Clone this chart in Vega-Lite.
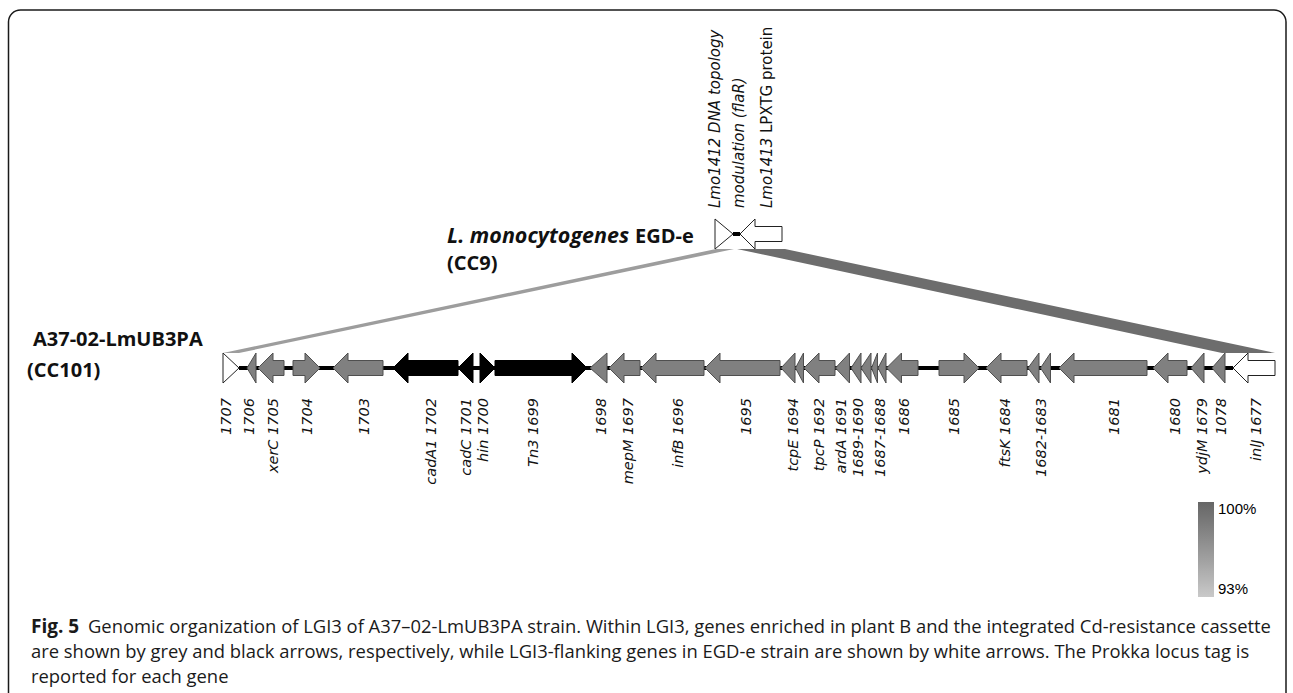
{
"$schema": "https://vega.github.io/schema/vega-lite/v6.json",
"width": 1293, "height": 693, "padding": 0,
"autosize": {"type": "fit", "contains": "padding"},
"config": {"view": {"stroke": null}},
"datasets": {
"frame": [{"x": 8.5, "x2": 1286, "y": 10, "y2": 720}],
"links": [
{"link": "left", "y": 249, "x": 716, "x2": 734, "identity": 96},
{"link": "left", "y": 353, "x": 223, "x2": 239, "identity": 96},
{"link": "right", "y": 249, "x": 737, "x2": 785, "identity": 99.5},
{"link": "right", "y": 353, "x": 1222, "x2": 1275, "identity": 99.5}
],
"backbone": [{"x": 239, "x2": 1233, "y": 368}, {"x": 733, "x2": 740, "y": 234}],
"genes": [
{"gene": "1707", "x": 223, "x2": 239, "y": 368, "dir": "R", "kind": "white", "head": "t16"},
{"gene": "1706", "x": 247, "x2": 256, "y": 368, "dir": "L", "kind": "grey", "head": "t9"},
{"gene": "1705", "x": 258, "x2": 284, "y": 368, "dir": "L", "kind": "grey", "head": "b"},
{"gene": "1704", "x": 293, "x2": 320, "y": 368, "dir": "R", "kind": "grey", "head": "b"},
{"gene": "1703", "x": 333, "x2": 383, "y": 368, "dir": "L", "kind": "grey", "head": "b"},
{"gene": "1702", "x": 393, "x2": 458, "y": 368, "dir": "L", "kind": "black", "head": "b"},
{"gene": "1701", "x": 458, "x2": 473, "y": 368, "dir": "L", "kind": "black", "head": "t15"},
{"gene": "1700", "x": 480, "x2": 495, "y": 368, "dir": "R", "kind": "black", "head": "t15"},
{"gene": "1699", "x": 495, "x2": 587, "y": 368, "dir": "R", "kind": "black", "head": "b"},
{"gene": "1698", "x": 590, "x2": 607, "y": 368, "dir": "L", "kind": "grey", "head": "t17"},
{"gene": "1697", "x": 609, "x2": 640, "y": 368, "dir": "L", "kind": "grey", "head": "b"},
{"gene": "1696", "x": 641, "x2": 704, "y": 368, "dir": "L", "kind": "grey", "head": "b"},
{"gene": "1695", "x": 705, "x2": 780, "y": 368, "dir": "L", "kind": "grey", "head": "b"},
{"gene": "1694", "x": 781, "x2": 795, "y": 368, "dir": "L", "kind": "grey", "head": "t14"},
{"gene": "1693", "x": 795.5, "x2": 803.5, "y": 368, "dir": "L", "kind": "grey", "head": "t8"},
{"gene": "1692", "x": 804, "x2": 835, "y": 368, "dir": "L", "kind": "grey", "head": "b"},
{"gene": "1691", "x": 835.5, "x2": 850, "y": 368, "dir": "L", "kind": "grey", "head": "t14"},
{"gene": "1690", "x": 851, "x2": 860.5, "y": 368, "dir": "L", "kind": "grey", "head": "t10"},
{"gene": "1689", "x": 861, "x2": 870.5, "y": 368, "dir": "L", "kind": "grey", "head": "t10"},
{"gene": "1688", "x": 871.5, "x2": 877.5, "y": 368, "dir": "L", "kind": "grey", "head": "t6"},
{"gene": "1687", "x": 878, "x2": 886, "y": 368, "dir": "L", "kind": "grey", "head": "t8"},
{"gene": "1686", "x": 886.5, "x2": 918, "y": 368, "dir": "L", "kind": "grey", "head": "b"},
{"gene": "1685", "x": 939, "x2": 979, "y": 368, "dir": "R", "kind": "grey", "head": "b"},
{"gene": "1684", "x": 986, "x2": 1027, "y": 368, "dir": "L", "kind": "grey", "head": "b"},
{"gene": "1683", "x": 1028, "x2": 1039, "y": 368, "dir": "L", "kind": "grey", "head": "t11"},
{"gene": "1682", "x": 1040.5, "x2": 1050.5, "y": 368, "dir": "L", "kind": "grey", "head": "t10"},
{"gene": "1681", "x": 1059, "x2": 1147, "y": 368, "dir": "L", "kind": "grey", "head": "b"},
{"gene": "1680", "x": 1153, "x2": 1187, "y": 368, "dir": "L", "kind": "grey", "head": "b"},
{"gene": "1679", "x": 1191, "x2": 1204, "y": 368, "dir": "L", "kind": "grey", "head": "t13"},
{"gene": "1678", "x": 1212, "x2": 1225, "y": 368, "dir": "L", "kind": "grey", "head": "t13"},
{"gene": "1677", "x": 1233, "x2": 1275, "y": 368, "dir": "L", "kind": "white", "head": "b"},
{"gene": "Lmo1412", "x": 715, "x2": 733, "y": 234, "dir": "R", "kind": "white", "head": "t18"},
{"gene": "Lmo1413", "x": 740, "x2": 782, "y": 234, "dir": "L", "kind": "white", "head": "b"}
],
"glabels": [
{"x": 226.7, "y": 398, "text": "1707"},
{"x": 250, "y": 398, "text": "1706"},
{"x": 274.3, "y": 398, "text": "xerC 1705"},
{"x": 308.3, "y": 398, "text": "1704"},
{"x": 365, "y": 398, "text": "1703"},
{"x": 431.5, "y": 398, "text": "cadA1 1702"},
{"x": 466.7, "y": 398, "text": "cadC 1701"},
{"x": 484, "y": 398, "text": "hin 1700"},
{"x": 533.5, "y": 398, "text": "Tn3 1699"},
{"x": 602, "y": 398, "text": "1698"},
{"x": 628.7, "y": 398, "text": "mepM 1697"},
{"x": 679, "y": 398, "text": "infB 1696"},
{"x": 747, "y": 398, "text": "1695"},
{"x": 793.5, "y": 398, "text": "tcpE 1694"},
{"x": 820, "y": 398, "text": "tpcP 1692"},
{"x": 841.5, "y": 398, "text": "ardA 1691"},
{"x": 858.5, "y": 398, "text": "1689-1690"},
{"x": 880.5, "y": 398, "text": "1687-1688"},
{"x": 905, "y": 398, "text": "1686"},
{"x": 955, "y": 398, "text": "1685"},
{"x": 1006, "y": 398, "text": "ftsK 1684"},
{"x": 1042, "y": 398, "text": "1682-1683"},
{"x": 1115, "y": 398, "text": "1681"},
{"x": 1176, "y": 398, "text": "1680"},
{"x": 1203, "y": 398, "text": "ydjM 1679"},
{"x": 1222, "y": 398, "text": "1078"},
{"x": 1257, "y": 398, "text": "inlJ 1677"}
],
"tops": [
{"x": 715, "y": 208, "text": "Lmo1412 DNA topology"},
{"x": 738.5, "y": 208, "text": "modulation (flaR)"},
{"x": 766.7, "y": 208, "text": "Lmo1413"}
],
"topsUp": [{"x": 766.7, "y": 133, "text": "LPXTG protein"}],
"bold": [
{"x": 33, "y": 346, "text": "A37-02-LmUB3PA"},
{"x": 27, "y": 377, "text": "(CC101)"},
{"x": 635, "y": 243, "text": "EGD-e"},
{"x": 447, "y": 270, "text": "(CC9)"}
],
"boldItalic": [{"x": 447, "y": 243, "text": "L. monocytogenes"}],
"capBold": [{"x": 31, "y": 633, "text": "Fig. 5"}],
"cap": [
{"x": 88, "y": 633, "text": "Genomic organization of LGI3 of A37–02-LmUB3PA strain. Within LGI3, genes enriched in plant B and the integrated Cd-resistance cassette"},
{"x": 31, "y": 658, "text": "are shown by grey and black arrows, respectively, while LGI3-flanking genes in EGD-e strain are shown by white arrows. The Prokka locus tag is"},
{"x": 31, "y": 683, "text": "reported for each gene"}
]
},
"layer": [
{
"data": {"name": "frame"},
"mark": {"type": "rect", "filled": false, "stroke": "#1a1a1a", "strokeWidth": 1.5, "cornerRadius": 12, "clip": true},
"encoding": {
"x": {"field": "x", "type": "quantitative", "scale": {"domain": [0, 1293], "nice": false, "zero": false}, "axis": null},
"x2": {"field": "x2"},
"y": {"field": "y", "type": "quantitative", "scale": {"domain": [0, 693], "reverse": true, "nice": false, "zero": false}, "axis": null},
"y2": {"field": "y2"}
}
},
{
"data": {"name": "links"},
"mark": {"type": "area", "orient": "horizontal"},
"encoding": {
"y": {"field": "y", "type": "quantitative"},
"x": {"field": "x", "type": "quantitative"},
"x2": {"field": "x2"},
"detail": {"field": "link"},
"fill": {"field": "identity", "type": "quantitative",
"scale": {"domain": [93, 100], "range": ["#c9c9c9", "#666666"]},
"legend": {"orient": "none", "legendX": 1198, "legendY": 502, "direction": "vertical", "title": null,
"gradientLength": 95, "gradientThickness": 16, "gradientStrokeWidth": 0, "values": [93, 100],
"labelExpr": "datum.value + '%'", "labelFont": "Liberation Sans", "labelFontSize": 15, "labelColor": "#000000", "labelOffset": 4}}
}
},
{
"data": {"name": "backbone"},
"mark": {"type": "rule", "color": "#000000", "strokeWidth": 4},
"encoding": {
"x": {"field": "x", "type": "quantitative"},
"x2": {"field": "x2"},
"y": {"field": "y", "type": "quantitative"}
}
},
{
"data": {"name": "genes"},
"transform": [{"filter": "datum.head == 'b' && datum.dir == 'L'"}],
"mark": {"type": "rect", "xOffset": 14, "yOffset": -7.5, "y2Offset": 7.5, "strokeWidth": 1},
"encoding": {
"x": {"field": "x", "type": "quantitative"},
"x2": {"field": "x2"},
"y": {"field": "y", "type": "quantitative"},
"y2": {"field": "y"},
"color": {"field": "kind", "type": "nominal", "scale": {"domain": ["grey", "black", "white"], "range": ["#808080", "#000000", "#ffffff"]}, "legend": null},
"stroke": {"field": "kind", "type": "nominal", "scale": {"domain": ["grey", "black", "white"], "range": ["#4f4f4f", "#000000", "#222222"]}, "legend": null}
}
},
{
"data": {"name": "genes"},
"transform": [{"filter": "datum.head == 'b' && datum.dir == 'R'"}],
"mark": {"type": "rect", "x2Offset": -14, "yOffset": -7.5, "y2Offset": 7.5, "strokeWidth": 1},
"encoding": {
"x": {"field": "x", "type": "quantitative"},
"x2": {"field": "x2"},
"y": {"field": "y", "type": "quantitative"},
"y2": {"field": "y"},
"color": {"field": "kind", "type": "nominal", "legend": null},
"stroke": {"field": "kind", "type": "nominal", "legend": null}
}
},
{
"data": {"name": "genes"},
"transform": [{"filter": "datum.dir == 'L'"}],
"mark": {"type": "point", "filled": true, "opacity": 1, "size": 900, "strokeWidth": 1},
"encoding": {
"x": {"field": "x", "type": "quantitative"},
"y": {"field": "y", "type": "quantitative"},
"shape": {"field": "head", "type": "nominal", "legend": null,
"scale": {"domain": ["b", "t6", "t7", "t8", "t9", "t10", "t11", "t12", "t13", "t14", "t15", "t16", "t17", "t18"],
"range": ["M1,-0.5L1,-1L0,0L1,1L1,0.5", "M0.4,-1L0,0L0.4,1Z", "M0.4667,-1L0,0L0.4667,1Z", "M0.5333,-1L0,0L0.5333,1Z", "M0.6,-1L0,0L0.6,1Z", "M0.6667,-1L0,0L0.6667,1Z", "M0.7333,-1L0,0L0.7333,1Z", "M0.8,-1L0,0L0.8,1Z", "M0.8667,-1L0,0L0.8667,1Z", "M0.9333,-1L0,0L0.9333,1Z", "M1,-1L0,0L1,1Z", "M1.0667,-1L0,0L1.0667,1Z", "M1.1333,-1L0,0L1.1333,1Z", "M1.2,-1L0,0L1.2,1Z"]}},
"color": {"field": "kind", "type": "nominal", "legend": null},
"stroke": {"field": "kind", "type": "nominal", "legend": null}
}
},
{
"data": {"name": "genes"},
"transform": [{"filter": "datum.dir == 'R'"}],
"mark": {"type": "point", "filled": true, "opacity": 1, "size": 900, "strokeWidth": 1, "angle": 180},
"encoding": {
"x": {"field": "x2", "type": "quantitative"},
"y": {"field": "y", "type": "quantitative"},
"shape": {"field": "head", "type": "nominal", "legend": null},
"color": {"field": "kind", "type": "nominal", "legend": null},
"stroke": {"field": "kind", "type": "nominal", "legend": null}
}
},
{
"data": {"name": "glabels"},
"mark": {"type": "text", "angle": 270, "align": "right", "baseline": "middle", "font": "DejaVu Sans", "fontStyle": "italic", "fontSize": 14.5, "color": "#111111"},
"encoding": {
"x": {"field": "x", "type": "quantitative"},
"y": {"field": "y", "type": "quantitative"},
"text": {"field": "text", "type": "nominal"}
}
},
{
"data": {"name": "tops"},
"mark": {"type": "text", "angle": 270, "align": "left", "baseline": "middle", "font": "DejaVu Sans", "fontStyle": "italic", "fontSize": 15, "color": "#111111"},
"encoding": {
"x": {"field": "x", "type": "quantitative"},
"y": {"field": "y", "type": "quantitative"},
"text": {"field": "text", "type": "nominal"}
}
},
{
"data": {"name": "topsUp"},
"mark": {"type": "text", "angle": 270, "align": "left", "baseline": "middle", "font": "DejaVu Sans", "fontSize": 15, "color": "#111111"},
"encoding": {
"x": {"field": "x", "type": "quantitative"},
"y": {"field": "y", "type": "quantitative"},
"text": {"field": "text", "type": "nominal"}
}
},
{
"data": {"name": "bold"},
"mark": {"type": "text", "align": "left", "baseline": "alphabetic", "font": "Open Sans", "fontWeight": "bold", "fontSize": 20, "color": "#111111"},
"encoding": {
"x": {"field": "x", "type": "quantitative"},
"y": {"field": "y", "type": "quantitative"},
"text": {"field": "text", "type": "nominal"}
}
},
{
"data": {"name": "boldItalic"},
"mark": {"type": "text", "align": "left", "baseline": "alphabetic", "font": "Open Sans", "fontWeight": "bold", "fontStyle": "italic", "fontSize": 21.5, "color": "#111111"},
"encoding": {
"x": {"field": "x", "type": "quantitative"},
"y": {"field": "y", "type": "quantitative"},
"text": {"field": "text", "type": "nominal"}
}
},
{
"data": {"name": "capBold"},
"mark": {"type": "text", "align": "left", "baseline": "alphabetic", "font": "Open Sans", "fontWeight": "bold", "fontSize": 19, "color": "#1a1a1a"},
"encoding": {
"x": {"field": "x", "type": "quantitative"},
"y": {"field": "y", "type": "quantitative"},
"text": {"field": "text", "type": "nominal"}
}
},
{
"data": {"name": "cap"},
"mark": {"type": "text", "align": "left", "baseline": "alphabetic", "font": "Open Sans", "fontSize": 18.4, "color": "#1a1a1a"},
"encoding": {
"x": {"field": "x", "type": "quantitative"},
"y": {"field": "y", "type": "quantitative"},
"text": {"field": "text", "type": "nominal"}
}
}
]
}
